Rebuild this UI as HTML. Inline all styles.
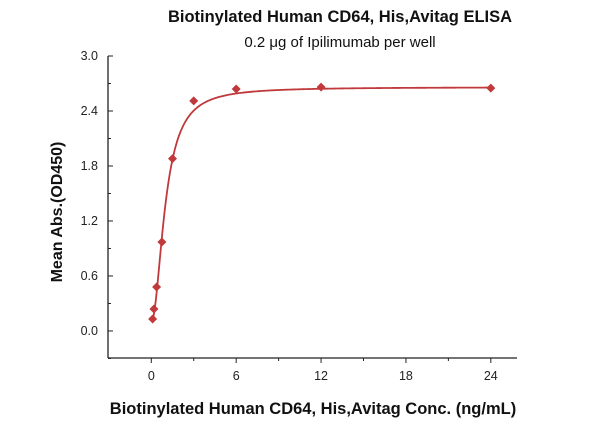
<!DOCTYPE html>
<html><head><meta charset="utf-8"><style>
body{margin:0;background:#fff;}
svg{display:block;font-family:"Liberation Sans",sans-serif;}
</style></head><body>
<svg id="chart" width="600" height="421">
<text x="340" y="22" text-anchor="middle" font-size="16.5" font-weight="bold" fill="#111">Biotinylated Human CD64, His,Avitag ELISA</text>
<text x="340" y="47" text-anchor="middle" font-size="15" fill="#111">0.2 μg of Ipilimumab per well</text>
<g id="axes"></g>
<g id="series"></g>
<text x="313" y="414" text-anchor="middle" font-size="16.5" font-weight="bold" fill="#111">Biotinylated Human CD64, His,Avitag Conc. (ng/mL)</text>
<text transform="translate(62,212) rotate(-90)" text-anchor="middle" font-size="16" font-weight="bold" fill="#111">Mean Abs.(OD450)</text>
</svg>
<script>
const conc=[24,12,6,3,1.5,0.75,0.375,0.1875,0.094];
const absorb=[2.65,2.66,2.64,2.51,1.88,0.97,0.48,0.24,0.13];
const xTicks=[0,6,12,18,24];
const yTicks=[0.0,0.6,1.2,1.8,2.4,3.0];
const fitParams=[0.1,2.66,1.0,2.0];
const NS="http://www.w3.org/2000/svg";
const X0=108,X1=517,Y0=358,Y1=56;
const xmin=-3.06,xmax=25.85,ymin=-0.295,ymax=3.0;
const sx=v=>X0+(v-xmin)/(xmax-xmin)*(X1-X0);
const sy=v=>Y0-(v-ymin)/(ymax-ymin)*(Y0-Y1);
function mk(t,a,p){const e=document.createElementNS(NS,t);for(const k in a)e.setAttribute(k,a[k]);p.appendChild(e);return e;}
const ax=document.getElementById('axes'),se=document.getElementById('series');
const yl=mk('line',{x1:X0,y1:Y1,x2:X0,y2:Y0,stroke:'#222','stroke-width':1.3},ax);


const xl=mk('line',{x1:X0,y1:Y0,x2:X1,y2:Y0,stroke:'#222','stroke-width':1.3},ax);


yTicks.forEach((v,i)=>{
 const y=sy(v);
 mk('line',{x1:X0,y1:y,x2:X0+5,y2:y,stroke:'#222'},ax);
 if(i<yTicks.length-1){const m=sy(v+0.3);mk('line',{x1:X0,y1:m,x2:X0+3,y2:m,stroke:'#222'},ax);}
 const t=mk('text',{x:X0-10,y:y+4,'text-anchor':'end','font-size':12.5,fill:'#222'},ax);
 t.textContent=v.toFixed(1);
 
 
});
mk('line',{x1:X0,y1:sy(-0.3),x2:X0+3,y2:sy(-0.3),stroke:'#222'},ax);
xTicks.forEach(v=>{
 const x=sx(v);
 mk('line',{x1:x,y1:Y0,x2:x,y2:Y0+5,stroke:'#222'},ax);
 const m=sx(v+3);if(m<X1)mk('line',{x1:m,y1:Y0,x2:m,y2:Y0+3,stroke:'#222'},ax);
 const t=mk('text',{x:x,y:Y0+22,'text-anchor':'middle','font-size':12.5,fill:'#222'},ax);
 t.textContent=v;
 
 
});
const fb=fitParams[0],ftop=fitParams[1],fc=fitParams[2],fh=fitParams[3];
const cmin=Math.min(...conc),cmax=Math.max(...conc);
let d='';
for(let i=0;i<=300;i++){const x=cmin+(cmax-cmin)*Math.pow(i/300,2.2);const y=fb+(ftop-fb)*Math.pow(x,fh)/(Math.pow(fc,fh)+Math.pow(x,fh));d+=(i?'L':'M')+sx(x).toFixed(2)+','+sy(y).toFixed(2);}
const fit=mk('path',{d:d,fill:'none',stroke:'#c0393b','stroke-width':1.8},se);


conc.forEach((v,i)=>{
 const x=sx(v),y=sy(absorb[i]),r=4.5;
 const p=mk('polygon',{points:`${x},${y-r} ${x+r},${y} ${x},${y+r} ${x-r},${y}`,fill:'#c0393b'},se);
 
 
});
</script>
</body></html>
